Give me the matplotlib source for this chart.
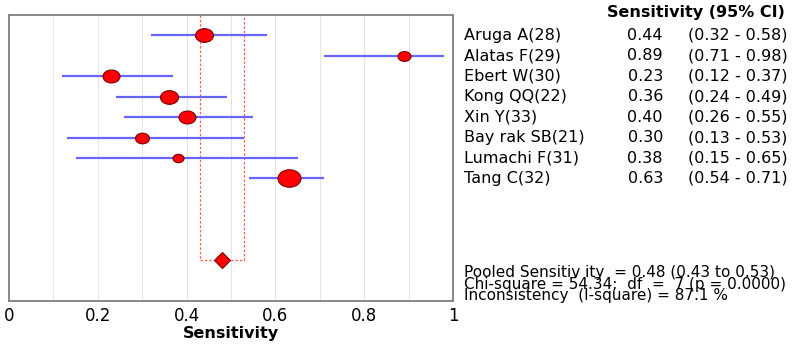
import numpy as np
import matplotlib.pyplot as plt
from matplotlib.path import Path
from matplotlib.markers import MarkerStyle

plt.rcParams['font.family'] = ['DejaVu Sans']

# Datos de los estudios
estudios = ['Aruga A(28)', 'Alatas F(29)', 'Ebert W(30)', 'Kong QQ(22)',
            'Xin Y(33)', 'Bay rak SB(21)', 'Lumachi F(31)', 'Tang C(32)']
sens = [0.44, 0.89, 0.23, 0.36, 0.40, 0.30, 0.38, 0.63]
ci_low = [0.32, 0.71, 0.12, 0.24, 0.26, 0.13, 0.15, 0.54]
ci_high = [0.58, 0.98, 0.37, 0.49, 0.55, 0.53, 0.65, 0.71]
# peso relativo de cada estudio (tamano del marcador)
pesos = [18, 13, 17, 18, 17, 14, 11, 23]

pooled = 0.48
pooled_low = 0.43
pooled_high = 0.53
resumen = ['Pooled Sensitiv ity  = 0.48 (0.43 to 0.53)',
           'Chi-square = 54.34;  df  =  7 (p = 0.0000)',
           'Inconsistency  (I-square) = 87.1 %']

fig = plt.figure(figsize=(8, 3.46), dpi=100)
W, H = 800, 346
ax = fig.add_axes([9 / W, 1 - 301 / H, (453 - 9) / W, (301 - 15) / H])

y = np.arange(len(estudios))
y_pool = 11

# grilla vertical
for gx in np.arange(0.1, 1.0, 0.1):
    ax.axvline(gx, color='#e4e4e4', lw=0.8, zorder=0)

# marca pooled: corchete rojo
ax.plot([pooled_low, pooled_low, pooled_high, pooled_high],
        [-1, y_pool, y_pool, -1], color='#ff5a5a', lw=0.9,
        ls=(0, (2, 1.5)), zorder=1)

# intervalos de confianza
ax.hlines(y, ci_low, ci_high, color='#6666ff', lw=1.6, zorder=2)

# marcador eliptico (tamano en pixeles -> puntos)
circ = Path.unit_circle()
elipse = Path(circ.vertices * np.array([1.0, 0.76]), circ.codes)
for yi, s, p in zip(y, sens, pesos):
    ax.plot(s, yi, marker=MarkerStyle(elipse), ms=p * 0.72, color='red',
            mec='#7a0000', mew=0.8, zorder=3)

ax.plot(pooled, y_pool, marker='D', ms=8.5, color='red', mec='#7a0000',
        mew=0.8, zorder=3)

ax.set_xlim(0, 1)
ax.set_ylim(13, -1)
ax.set_yticks([])
ax.set_xticks([0, 0.2, 0.4, 0.6, 0.8, 1.0])
ax.set_xticklabels(['0', '0.2', '0.4', '0.6', '0.8', '1'], fontsize=12)
ax.tick_params(axis='x', length=0, pad=4)
ax.set_xlabel('Sensitivity', fontsize=11.5, fontweight='bold', labelpad=1)
for sp in ax.spines.values():
    sp.set_color('#7f7f7f')
    sp.set_linewidth(1.3)

# tabla de texto a la derecha
fs = 11.5
def fy(py):
    return 1 - py / H

fig.text(785 / W, fy(12), 'Sensitivity (95% CI)', fontsize=fs,
         fontweight='bold', ha='right', va='center')
for i, nombre in enumerate(estudios):
    yy = ax.transData.transform((0, i))[1] / (fig.dpi * fig.get_figheight())
    fig.text(464 / W, yy, nombre, fontsize=fs, va='center')
    fig.text(663 / W, yy, f'{sens[i]:.2f}', fontsize=fs, va='center', ha='right')
    fig.text(688 / W, yy, f'({ci_low[i]:.2f} - {ci_high[i]:.2f})',
             fontsize=fs, va='center')

fig.text(464 / W, fy(284), '\n'.join(resumen), fontsize=11, va='center',
         linespacing=0.74)

fig.savefig('out.png', dpi=100, facecolor='white')
